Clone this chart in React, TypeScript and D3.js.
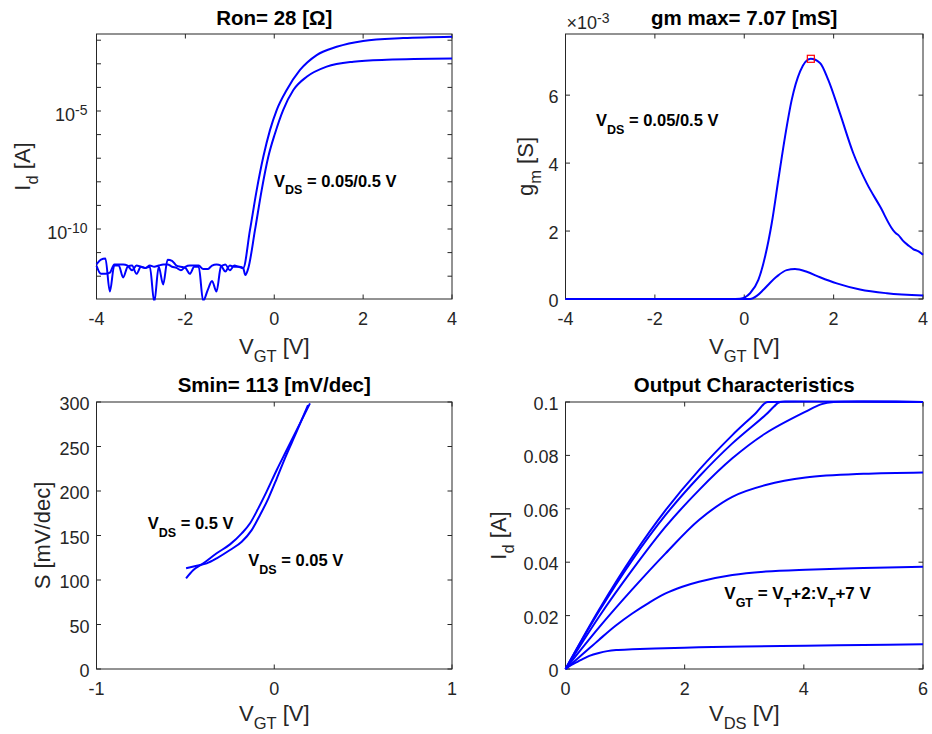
import React from "react";
import * as d3 from "d3";

const FONT = '"Liberation Sans", Arial, Helvetica, sans-serif';
const AX = "#262626";
const BLUE = "#0000ff";

// ---------------- Panel 1: transfer characteristics (log10 Id) ----------------
const idVgt05 = [-4.0, -3.9, -3.8, -3.7, -3.6, -3.5, -3.4, -3.3, -3.2, -3.1, -3.0, -2.9, -2.8, -2.7, -2.6, -2.5, -2.4, -2.3, -2.2, -2.1, -2.0, -1.9, -1.8, -1.7, -1.6, -1.5, -1.4, -1.3, -1.2, -1.1, -1.0, -0.9, -0.8, -0.7, -0.546, -0.395, -0.246, -0.096, 0.055, 0.28, 0.58, 0.955, 1.405, 2.0, 2.9, 4.0];
const idLog05 = [-11.5, -11.3, -11.25, -12.65, -11.55, -11.55, -12.05, -11.6, -11.55, -11.9, -11.6, -11.65, -11.6, -13.1, -11.6, -12.35, -11.3, -11.35, -11.55, -11.6, -11.65, -11.9, -11.6, -11.6, -13.05, -12.6, -12.2, -12.65, -11.6, -11.5, -11.75, -11.55, -11.6, -11.66, -10.04, -8.35, -6.94, -5.81, -4.96, -4.11, -3.26, -2.63, -2.28, -2.03, -1.91, -1.85];
const idVgt005 = [-4.0, -3.9, -3.8, -3.7, -3.6, -3.5, -3.4, -3.3, -3.2, -3.1, -3.0, -2.9, -2.8, -2.7, -2.6, -2.5, -2.4, -2.3, -2.2, -2.1, -2.0, -1.9, -1.8, -1.7, -1.6, -1.5, -1.4, -1.3, -1.2, -1.1, -1.0, -0.9, -0.8, -0.7, -0.65, -0.584, -0.433, -0.283, -0.134, 0.017, 0.2, 0.43, 0.73, 1.18, 1.78, 2.53, 4.0];
const idLog005 = [-11.55, -11.9, -11.9, -11.85, -11.5, -11.5, -11.5, -11.55, -11.75, -11.55, -11.6, -11.65, -11.55, -11.6, -11.55, -11.5, -11.5, -11.6, -11.65, -11.75, -11.6, -11.55, -11.55, -11.55, -11.7, -11.7, -11.55, -11.5, -11.55, -11.8, -11.55, -11.6, -11.6, -11.65, -11.95, -11.66, -10.04, -8.35, -6.94, -5.95, -4.96, -4.11, -3.55, -3.12, -2.91, -2.83, -2.78];
const idLogDomain = [-12.966, -1.737];
const idDecadeTicks = [-12, -11, -10, -9, -8, -7, -6, -5, -4, -3, -2];
const idLabelTicks = [-10, -5];
const vgtTicks = [-4, -2, 0, 2, 4];

// ---------------- Panel 2: transconductance (mS) ----------------
const gmVgt05 = [-4, -1, -0.3, -0.094, 0.13, 0.316, 0.466, 0.615, 0.763, 0.913, 1.062, 1.25, 1.487, 1.695, 1.88, 2.14, 2.44, 2.74, 3.04, 3.33, 3.4, 3.45, 3.55, 3.65, 3.72, 3.78, 3.9, 4.0];
const gm05 = [0, 0, 0, 0.01, 0.17, 0.56, 1.25, 2.23, 3.51, 4.78, 5.86, 6.7, 7.07, 6.95, 6.45, 5.47, 4.29, 3.41, 2.72, 2.03, 1.93, 1.88, 1.72, 1.6, 1.53, 1.47, 1.4, 1.3];
const gmVgt005 = [-4, -1, 0, 0.13, 0.28, 0.428, 0.58, 0.727, 0.95, 1.136, 1.4, 1.695, 2.07, 2.59, 3.19, 4.0];
const gm005 = [0, 0, 0, 0.0, 0.09, 0.27, 0.48, 0.66, 0.85, 0.88, 0.8, 0.64, 0.46, 0.28, 0.17, 0.1];
const gmPeak = { vgt: 1.49, gm: 7.07 };
const gmDomain = [0, 7.8];
const gmTicks = [0, 2, 4, 6];

// ---------------- Panel 3: subthreshold swing ----------------
const sVgt05 = [-0.496, -0.455, -0.399, -0.324, -0.249, -0.183, -0.136, -0.09, -0.043, 0.014, 0.07, 0.135, 0.201];
const s05 = [101.9, 111.2, 118.7, 130, 140, 152.4, 163.7, 180.5, 199.3, 223.6, 246, 272, 298.5];
const sVgt005 = [-0.496, -0.436, -0.38, -0.324, -0.249, -0.183, -0.127, -0.08, -0.033, 0.014, 0.06, 0.126, 0.19];
const s005 = [113.1, 116, 118.7, 124.4, 133.7, 143, 156, 173, 191.8, 214, 236.7, 266.6, 296.6];
const sVgtTicks = [-1, 0, 1];
const sTicks = [0, 50, 100, 150, 200, 250, 300];

// ---------------- Panel 4: output characteristics ----------------
const outVds1 = [0, 0.1, 0.2, 0.28, 0.4, 0.56, 0.7, 0.85, 1.12, 1.5, 2.24, 3, 4.03, 5, 6];
const outId1 = [0, 0.0015, 0.0027, 0.0036, 0.0049, 0.006, 0.0067, 0.0071, 0.0074, 0.0077, 0.0081, 0.0084, 0.0087, 0.009, 0.0093];
const outVds2 = [0, 0.28, 0.56, 0.84, 1.12, 1.4, 1.68, 1.96, 2.24, 2.8, 3.36, 4.03, 5, 6];
const outId2 = [0, 0.0054, 0.0109, 0.0162, 0.0208, 0.0248, 0.0283, 0.0308, 0.0327, 0.0352, 0.0365, 0.0372, 0.0378, 0.0383];
const outVds3 = [0, 0.56, 1.12, 1.68, 2.24, 2.8, 3.36, 4.03, 5, 6];
const outId3 = [0, 0.0155, 0.0298, 0.0433, 0.0558, 0.0645, 0.0689, 0.0717, 0.0731, 0.0736];
const outVds4 = [0, 0.56, 1.12, 1.68, 2.24, 2.8, 3.36, 4.03, 4.3, 4.5, 6];
const outId4 = [0, 0.0195, 0.0371, 0.0533, 0.067, 0.0789, 0.0883, 0.0964, 0.0992, 0.1, 0.1];
const outVds5 = [0, 0.56, 1.12, 1.68, 2.24, 2.8, 3.36, 3.5, 3.6, 6];
const outId5 = [0, 0.0215, 0.0408, 0.0577, 0.072, 0.0845, 0.0952, 0.0983, 0.1, 0.1];
const outVds6 = [0, 0.56, 1.12, 1.68, 2.24, 2.8, 3.2, 3.36, 3.42, 6];
const outId6 = [0, 0.0221, 0.042, 0.0595, 0.0745, 0.0876, 0.096, 0.0998, 0.1, 0.1];
const vdsTicks = [0, 2, 4, 6];
const outIdTicks = [0, 0.02, 0.04, 0.06, 0.08, 0.1];

type Box = { l: number; r: number; t: number; b: number };
const boxTL: Box = { l: 96.5, r: 452, t: 34, b: 299 };
const boxTR: Box = { l: 565.5, r: 923, t: 34, b: 299 };
const boxBL: Box = { l: 96.5, r: 452, t: 402, b: 669 };
const boxBR: Box = { l: 565.5, r: 923, t: 402, b: 669 };

const TICK = 4.5;

function zip(xs: number[], ys: number[]) {
  return xs.map((x, i) => [x, ys[i]] as [number, number]);
}

function Frame(props: {
  box: Box;
  id: string;
  xScale: (v: number) => number;
  yScale: (v: number) => number;
  xTicks: number[];
  yTicks: number[];
  xFmt?: (v: number) => string;
  yFmt?: ((v: number) => string) | null;
  children?: React.ReactNode;
}) {
  const { box, id, xScale, yScale, xTicks, yTicks } = props;
  const xFmt = props.xFmt || ((v: number) => String(v));
  const yFmt = props.yFmt === undefined ? (v: number) => String(v) : props.yFmt;
  return (
    <g>
      <defs>
        <clipPath id={id}>
          <rect x={box.l - 1.5} y={box.t - 1.5} width={box.r - box.l + 3} height={box.b - box.t + 3} />
        </clipPath>
      </defs>
      <rect x={box.l} y={box.t} width={box.r - box.l} height={box.b - box.t} fill="#fff" stroke={AX} strokeWidth={1} />
      {xTicks.map((v) => (
        <g key={"x" + v}>
          <line x1={xScale(v)} x2={xScale(v)} y1={box.b} y2={box.b - TICK} stroke={AX} />
          <line x1={xScale(v)} x2={xScale(v)} y1={box.t} y2={box.t + TICK} stroke={AX} />
          <text x={xScale(v)} y={box.b + 26} textAnchor="middle" fontSize={18} fill={AX}>
            {xFmt(v)}
          </text>
        </g>
      ))}
      {yTicks.map((v) => (
        <g key={"y" + v}>
          <line x1={box.l} x2={box.l + TICK} y1={yScale(v)} y2={yScale(v)} stroke={AX} />
          <line x1={box.r} x2={box.r - TICK} y1={yScale(v)} y2={yScale(v)} stroke={AX} />
          {yFmt && (
            <text x={box.l - 7} y={yScale(v) + 8} textAnchor="end" fontSize={18} fill={AX}>
              {yFmt(v)}
            </text>
          )}
        </g>
      ))}
      <g clipPath={`url(#${id})`}>{props.children}</g>
    </g>
  );
}

function Ann(props: { x: number; y: number; parts: [string, boolean][]; size?: number }) {
  const size = props.size || 17;
  let sub = false;
  return (
    <text x={props.x} y={props.y} fontSize={size} fontWeight="bold" fill="#000">
      {props.parts.map(([t, isSub], i) => {
        const dy = isSub && !sub ? 7.5 : !isSub && sub ? -7.5 : 0;
        sub = isSub;
        return (
          <tspan key={i} dy={dy} fontSize={isSub ? 12.5 : size}>
            {t}
          </tspan>
        );
      })}
    </text>
  );
}

export default function App() {
  const xTL = d3.scaleLinear().domain([-4, 4]).range([boxTL.l, boxTL.r]);
  const yTL = d3.scaleLog().domain(idLogDomain.map((v) => Math.pow(10, v))).range([boxTL.b, boxTL.t]);
  const xTR = d3.scaleLinear().domain([-4, 4]).range([boxTR.l, boxTR.r]);
  const yTR = d3.scaleLinear().domain(gmDomain.map((v) => v * 1e-3)).range([boxTR.b, boxTR.t]);
  const xBL = d3.scaleLinear().domain([-1, 1]).range([boxBL.l, boxBL.r]);
  const yBL = d3.scaleLinear().domain([0, 300]).range([boxBL.b, boxBL.t]);
  const xBR = d3.scaleLinear().domain([0, 6]).range([boxBR.l, boxBR.r]);
  const yBR = d3.scaleLinear().domain([0, 0.1]).range([boxBR.b, boxBR.t]);

  const mk = (xs: any, ys: any, curve: any = d3.curveMonotoneX) =>
    d3
      .line<[number, number]>()
      .x((d) => xs(d[0]))
      .y((d) => ys(d[1]))
      .curve(curve);

  const lineTL = mk(xTL, yTL);
  const lineTR = mk(xTR, yTR);
  const lineBL = mk(xBL, yBL);
  const lineBR = mk(xBR, yBR, d3.curveCatmullRom.alpha(0.5));

  const pathProps = { fill: "none", stroke: BLUE, strokeWidth: 2, strokeLinejoin: "round" as const };

  const tl05 = zip(idVgt05, idLog05.map((v) => Math.pow(10, v)));
  const tl005 = zip(idVgt005, idLog005.map((v) => Math.pow(10, v)));
  const outSeries = [
    zip(outVds1, outId1),
    zip(outVds2, outId2),
    zip(outVds3, outId3),
    zip(outVds4, outId4),
    zip(outVds5, outId5),
    zip(outVds6, outId6),
  ];

  const cxTL = (boxTL.l + boxTL.r) / 2;
  const cxTR = (boxTR.l + boxTR.r) / 2;
  const cyTop = (boxTL.t + boxTL.b) / 2;
  const cyBot = (boxBL.t + boxBL.b) / 2;
  const TITLE = 20.5;

  return (
    <svg
      width={932}
      height={734}
      style={{ position: "absolute", left: 0, top: 0, background: "#fff" }}
      fontFamily={FONT}
    >
      <rect x={0} y={0} width={932} height={734} fill="#fff" />

      {/* ---------- Top-left ---------- */}
      <Frame
        box={boxTL}
        id="clipTL"
        xScale={xTL}
        yScale={(v) => yTL(Math.pow(10, v))}
        xTicks={vgtTicks}
        yTicks={idDecadeTicks}
        yFmt={null}
      >
        <path d={lineTL(tl05) || ""} {...pathProps} />
        <path d={lineTL(tl005) || ""} {...pathProps} />
      </Frame>
      {idLabelTicks.map((e) => (
        <text key={e} x={boxTL.l - 9} y={yTL(Math.pow(10, e)) + 10} textAnchor="end" fontSize={18} fill={AX}>
          10
          <tspan dy={-6} fontSize={14}>
            {String(e)}
          </tspan>
        </text>
      ))}
      <text x={cxTL} y={25} textAnchor="middle" fontSize={TITLE} fontWeight="bold" fill="#000">
        Ron= 28 [Ω]
      </text>
      <text x={cxTL} y={354} textAnchor="middle" fontSize={22} fill={AX}>
        V<tspan dy={8} fontSize={16.5}>GT</tspan>
        <tspan dy={-8}> [V]</tspan>
      </text>
      <text transform={`translate(30,${cyTop}) rotate(-90)`} textAnchor="middle" fontSize={22} fill={AX}>
        I<tspan dy={8} fontSize={16.5}>d</tspan>
        <tspan dy={-8}> [A]</tspan>
      </text>
      <Ann x={274} y={186.7} parts={[["V", false], ["DS", true], [" = 0.05/0.5 V", false]]} size={16.5} />

      {/* ---------- Top-right ---------- */}
      <Frame
        box={boxTR}
        id="clipTR"
        xScale={xTR}
        yScale={(v) => yTR(v * 1e-3)}
        xTicks={vgtTicks}
        yTicks={gmTicks}
      >
        <path d={lineTR(zip(gmVgt05, gm05.map((v) => v * 1e-3))) || ""} {...pathProps} />
        <path d={lineTR(zip(gmVgt005, gm005.map((v) => v * 1e-3))) || ""} {...pathProps} />
        <rect
          x={xTR(gmPeak.vgt) - 3.5}
          y={yTR(gmPeak.gm * 1e-3) - 3.5}
          width={7}
          height={7}
          fill="none"
          stroke="#ff0000"
          strokeWidth={1.2}
        />
      </Frame>
      <text x={566.5} y={29} fontSize={18} fill={AX}>
        ×10
        <tspan dy={-6.5} fontSize={14}>
          -3
        </tspan>
      </text>
      <text x={cxTR} y={25} textAnchor="middle" fontSize={TITLE} fontWeight="bold" fill="#000">
        gm max= 7.07 [mS]
      </text>
      <text x={cxTR} y={354} textAnchor="middle" fontSize={22} fill={AX}>
        V<tspan dy={8} fontSize={16.5}>GT</tspan>
        <tspan dy={-8}> [V]</tspan>
      </text>
      <text transform={`translate(533,${cyTop}) rotate(-90)`} textAnchor="middle" fontSize={22} fill={AX}>
        g<tspan dy={8} fontSize={16.5}>m</tspan>
        <tspan dy={-8}> [S]</tspan>
      </text>
      <Ann x={596} y={126} parts={[["V", false], ["DS", true], [" = 0.05/0.5 V", false]]} size={16.5} />

      {/* ---------- Bottom-left ---------- */}
      <Frame box={boxBL} id="clipBL" xScale={xBL} yScale={yBL} xTicks={sVgtTicks} yTicks={sTicks}>
        <path d={lineBL(zip(sVgt05, s05)) || ""} {...pathProps} />
        <path d={lineBL(zip(sVgt005, s005)) || ""} {...pathProps} />
      </Frame>
      <text x={cxTL} y={392} textAnchor="middle" fontSize={TITLE} fontWeight="bold" fill="#000">
        Smin= 113 [mV/dec]
      </text>
      <text x={cxTL} y={721} textAnchor="middle" fontSize={22} fill={AX}>
        V<tspan dy={8} fontSize={16.5}>GT</tspan>
        <tspan dy={-8}> [V]</tspan>
      </text>
      <text transform={`translate(50,${cyBot}) rotate(-90)`} textAnchor="middle" fontSize={22} fill={AX}>
        S [mV/dec]
      </text>
      <Ann x={147.7} y={529.3} parts={[["V", false], ["DS", true], [" = 0.5 V", false]]} size={16.5} />
      <Ann x={248.3} y={566.3} parts={[["V", false], ["DS", true], [" = 0.05 V", false]]} size={16.5} />

      {/* ---------- Bottom-right ---------- */}
      <Frame
        box={boxBR}
        id="clipBR"
        xScale={xBR}
        yScale={yBR}
        xTicks={vdsTicks}
        yTicks={outIdTicks}
        yFmt={(v) => d3.format("~g")(v)}
      >
        {outSeries.map((s, i) => (
          <path key={i} d={lineBR(s) || ""} {...pathProps} />
        ))}
      </Frame>
      <text x={cxTR} y={392} textAnchor="middle" fontSize={TITLE} fontWeight="bold" fill="#000">
        Output Characteristics
      </text>
      <text x={cxTR} y={721} textAnchor="middle" fontSize={22} fill={AX}>
        V<tspan dy={8} fontSize={16.5}>DS</tspan>
        <tspan dy={-8}> [V]</tspan>
      </text>
      <text transform={`translate(506,${cyBot}) rotate(-90)`} textAnchor="middle" fontSize={22} fill={AX}>
        I<tspan dy={8} fontSize={16.5}>d</tspan>
        <tspan dy={-8}> [A]</tspan>
      </text>
      <Ann
        x={724.3}
        y={599.3}
        parts={[
          ["V", false],
          ["GT", true],
          [" = V", false],
          ["T", true],
          ["+2:V", false],
          ["T", true],
          ["+7 V", false],
        ]}
      />
    </svg>
  );
}
